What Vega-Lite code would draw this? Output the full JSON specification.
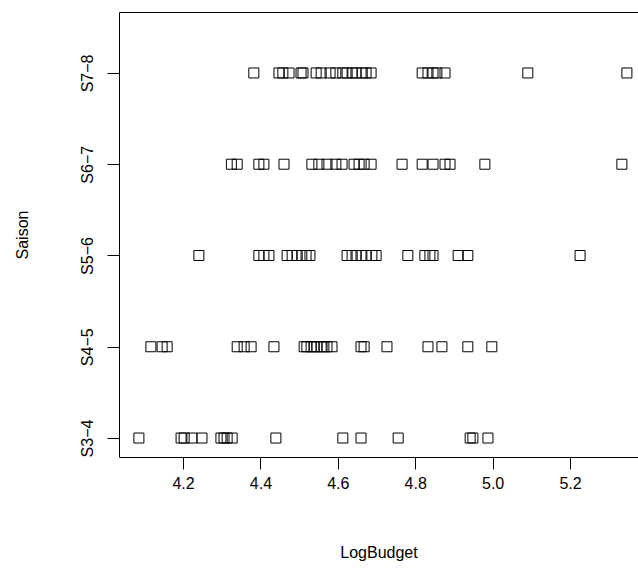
{
  "$schema": "https://vega.github.io/schema/vega-lite/v6.json",
  "autosize": "none",
  "width": 519,
  "height": 445,
  "padding": {"left": 119, "top": 12, "right": 0, "bottom": 112},
  "background": "white",
  "config": {
    "view": {"stroke": null},
    "font": "Liberation Sans",
    "axis": {"grid": false, "domainColor": "black", "tickColor": "black", "labelColor": "black", "titleColor": "black", "labelFont": "Liberation Sans", "titleFont": "Liberation Sans", "labelFontSize": 16, "titleFontSize": 16, "titleFontWeight": "normal", "tickSize": 12, "domainWidth": 1, "tickWidth": 1}
  },
  "data": {"values": [
    {"Saison": "S7−8", "Rang": 5, "LogBudget": 4.383},
    {"Saison": "S7−8", "Rang": 5, "LogBudget": 4.448},
    {"Saison": "S7−8", "Rang": 5, "LogBudget": 4.458},
    {"Saison": "S7−8", "Rang": 5, "LogBudget": 4.474},
    {"Saison": "S7−8", "Rang": 5, "LogBudget": 4.505},
    {"Saison": "S7−8", "Rang": 5, "LogBudget": 4.510},
    {"Saison": "S7−8", "Rang": 5, "LogBudget": 4.544},
    {"Saison": "S7−8", "Rang": 5, "LogBudget": 4.557},
    {"Saison": "S7−8", "Rang": 5, "LogBudget": 4.580},
    {"Saison": "S7−8", "Rang": 5, "LogBudget": 4.595},
    {"Saison": "S7−8", "Rang": 5, "LogBudget": 4.613},
    {"Saison": "S7−8", "Rang": 5, "LogBudget": 4.624},
    {"Saison": "S7−8", "Rang": 5, "LogBudget": 4.637},
    {"Saison": "S7−8", "Rang": 5, "LogBudget": 4.647},
    {"Saison": "S7−8", "Rang": 5, "LogBudget": 4.663},
    {"Saison": "S7−8", "Rang": 5, "LogBudget": 4.673},
    {"Saison": "S7−8", "Rang": 5, "LogBudget": 4.686},
    {"Saison": "S7−8", "Rang": 5, "LogBudget": 4.818},
    {"Saison": "S7−8", "Rang": 5, "LogBudget": 4.833},
    {"Saison": "S7−8", "Rang": 5, "LogBudget": 4.846},
    {"Saison": "S7−8", "Rang": 5, "LogBudget": 4.856},
    {"Saison": "S7−8", "Rang": 5, "LogBudget": 4.877},
    {"Saison": "S7−8", "Rang": 5, "LogBudget": 5.091},
    {"Saison": "S7−8", "Rang": 5, "LogBudget": 5.347},
    {"Saison": "S6−7", "Rang": 4, "LogBudget": 4.325},
    {"Saison": "S6−7", "Rang": 4, "LogBudget": 4.340},
    {"Saison": "S6−7", "Rang": 4, "LogBudget": 4.396},
    {"Saison": "S6−7", "Rang": 4, "LogBudget": 4.409},
    {"Saison": "S6−7", "Rang": 4, "LogBudget": 4.461},
    {"Saison": "S6−7", "Rang": 4, "LogBudget": 4.533},
    {"Saison": "S6−7", "Rang": 4, "LogBudget": 4.551},
    {"Saison": "S6−7", "Rang": 4, "LogBudget": 4.572},
    {"Saison": "S6−7", "Rang": 4, "LogBudget": 4.595},
    {"Saison": "S6−7", "Rang": 4, "LogBudget": 4.611},
    {"Saison": "S6−7", "Rang": 4, "LogBudget": 4.642},
    {"Saison": "S6−7", "Rang": 4, "LogBudget": 4.655},
    {"Saison": "S6−7", "Rang": 4, "LogBudget": 4.668},
    {"Saison": "S6−7", "Rang": 4, "LogBudget": 4.686},
    {"Saison": "S6−7", "Rang": 4, "LogBudget": 4.766},
    {"Saison": "S6−7", "Rang": 4, "LogBudget": 4.818},
    {"Saison": "S6−7", "Rang": 4, "LogBudget": 4.846},
    {"Saison": "S6−7", "Rang": 4, "LogBudget": 4.877},
    {"Saison": "S6−7", "Rang": 4, "LogBudget": 4.890},
    {"Saison": "S6−7", "Rang": 4, "LogBudget": 4.980},
    {"Saison": "S6−7", "Rang": 4, "LogBudget": 5.334},
    {"Saison": "S5−6", "Rang": 3, "LogBudget": 4.241},
    {"Saison": "S5−6", "Rang": 3, "LogBudget": 4.396},
    {"Saison": "S5−6", "Rang": 3, "LogBudget": 4.409},
    {"Saison": "S5−6", "Rang": 3, "LogBudget": 4.422},
    {"Saison": "S5−6", "Rang": 3, "LogBudget": 4.469},
    {"Saison": "S5−6", "Rang": 3, "LogBudget": 4.482},
    {"Saison": "S5−6", "Rang": 3, "LogBudget": 4.495},
    {"Saison": "S5−6", "Rang": 3, "LogBudget": 4.507},
    {"Saison": "S5−6", "Rang": 3, "LogBudget": 4.518},
    {"Saison": "S5−6", "Rang": 3, "LogBudget": 4.528},
    {"Saison": "S5−6", "Rang": 3, "LogBudget": 4.624},
    {"Saison": "S5−6", "Rang": 3, "LogBudget": 4.637},
    {"Saison": "S5−6", "Rang": 3, "LogBudget": 4.647},
    {"Saison": "S5−6", "Rang": 3, "LogBudget": 4.660},
    {"Saison": "S5−6", "Rang": 3, "LogBudget": 4.673},
    {"Saison": "S5−6", "Rang": 3, "LogBudget": 4.688},
    {"Saison": "S5−6", "Rang": 3, "LogBudget": 4.699},
    {"Saison": "S5−6", "Rang": 3, "LogBudget": 4.781},
    {"Saison": "S5−6", "Rang": 3, "LogBudget": 4.825},
    {"Saison": "S5−6", "Rang": 3, "LogBudget": 4.838},
    {"Saison": "S5−6", "Rang": 3, "LogBudget": 4.846},
    {"Saison": "S5−6", "Rang": 3, "LogBudget": 4.911},
    {"Saison": "S5−6", "Rang": 3, "LogBudget": 4.936},
    {"Saison": "S5−6", "Rang": 3, "LogBudget": 5.226},
    {"Saison": "S4−5", "Rang": 2, "LogBudget": 4.117},
    {"Saison": "S4−5", "Rang": 2, "LogBudget": 4.146},
    {"Saison": "S4−5", "Rang": 2, "LogBudget": 4.159},
    {"Saison": "S4−5", "Rang": 2, "LogBudget": 4.340},
    {"Saison": "S4−5", "Rang": 2, "LogBudget": 4.358},
    {"Saison": "S4−5", "Rang": 2, "LogBudget": 4.376},
    {"Saison": "S4−5", "Rang": 2, "LogBudget": 4.435},
    {"Saison": "S4−5", "Rang": 2, "LogBudget": 4.513},
    {"Saison": "S4−5", "Rang": 2, "LogBudget": 4.520},
    {"Saison": "S4−5", "Rang": 2, "LogBudget": 4.531},
    {"Saison": "S4−5", "Rang": 2, "LogBudget": 4.539},
    {"Saison": "S4−5", "Rang": 2, "LogBudget": 4.546},
    {"Saison": "S4−5", "Rang": 2, "LogBudget": 4.557},
    {"Saison": "S4−5", "Rang": 2, "LogBudget": 4.564},
    {"Saison": "S4−5", "Rang": 2, "LogBudget": 4.572},
    {"Saison": "S4−5", "Rang": 2, "LogBudget": 4.585},
    {"Saison": "S4−5", "Rang": 2, "LogBudget": 4.660},
    {"Saison": "S4−5", "Rang": 2, "LogBudget": 4.668},
    {"Saison": "S4−5", "Rang": 2, "LogBudget": 4.727},
    {"Saison": "S4−5", "Rang": 2, "LogBudget": 4.833},
    {"Saison": "S4−5", "Rang": 2, "LogBudget": 4.869},
    {"Saison": "S4−5", "Rang": 2, "LogBudget": 4.936},
    {"Saison": "S4−5", "Rang": 2, "LogBudget": 4.998},
    {"Saison": "S3−4", "Rang": 1, "LogBudget": 4.086},
    {"Saison": "S3−4", "Rang": 1, "LogBudget": 4.195},
    {"Saison": "S3−4", "Rang": 1, "LogBudget": 4.203},
    {"Saison": "S3−4", "Rang": 1, "LogBudget": 4.223},
    {"Saison": "S3−4", "Rang": 1, "LogBudget": 4.249},
    {"Saison": "S3−4", "Rang": 1, "LogBudget": 4.298},
    {"Saison": "S3−4", "Rang": 1, "LogBudget": 4.306},
    {"Saison": "S3−4", "Rang": 1, "LogBudget": 4.314},
    {"Saison": "S3−4", "Rang": 1, "LogBudget": 4.327},
    {"Saison": "S3−4", "Rang": 1, "LogBudget": 4.440},
    {"Saison": "S3−4", "Rang": 1, "LogBudget": 4.613},
    {"Saison": "S3−4", "Rang": 1, "LogBudget": 4.660},
    {"Saison": "S3−4", "Rang": 1, "LogBudget": 4.756},
    {"Saison": "S3−4", "Rang": 1, "LogBudget": 4.942},
    {"Saison": "S3−4", "Rang": 1, "LogBudget": 4.949},
    {"Saison": "S3−4", "Rang": 1, "LogBudget": 4.988}
  ]},
  "layer": [
    {
      "mark": {"type": "point", "shape": "square", "size": 100, "filled": false, "stroke": "black", "strokeWidth": 1, "opacity": 1},
      "encoding": {
        "x": {"field": "LogBudget", "type": "quantitative",
              "scale": {"domain": [4.0346, 5.3757], "nice": false, "zero": false},
              "axis": {"title": "LogBudget", "values": [4.2, 4.4, 4.6, 4.8, 5.0, 5.2], "format": ".1f", "labelPadding": 6, "titlePadding": 53, "labelFlush": false}},
        "y": {"field": "Rang", "type": "quantitative",
              "scale": {"domain": [0.792, 5.668], "nice": false, "zero": false},
              "axis": {"title": "Saison", "values": [1, 2, 3, 4, 5], "labelAngle": 270, "labelAlign": "center", "labelBaseline": "bottom", "labelPadding": 12, "titlePadding": 49, "labelFlush": false,
                       "labelExpr": "datum.value == 1 ? 'S3−4' : datum.value == 2 ? 'S4−5' : datum.value == 3 ? 'S5−6' : datum.value == 4 ? 'S6−7' : 'S7−8'"}}
      }
    },
    {
      "mark": {"type": "point", "opacity": 0},
      "encoding": {
        "x": {"field": "LogBudget", "type": "quantitative",
              "axis": {"orient": "top", "labels": false, "ticks": false, "title": null, "domain": true}},
        "y": {"field": "Rang", "type": "quantitative"}
      }
    }
  ],
  "resolve": {"axis": {"x": "independent", "y": "shared"}}
}
